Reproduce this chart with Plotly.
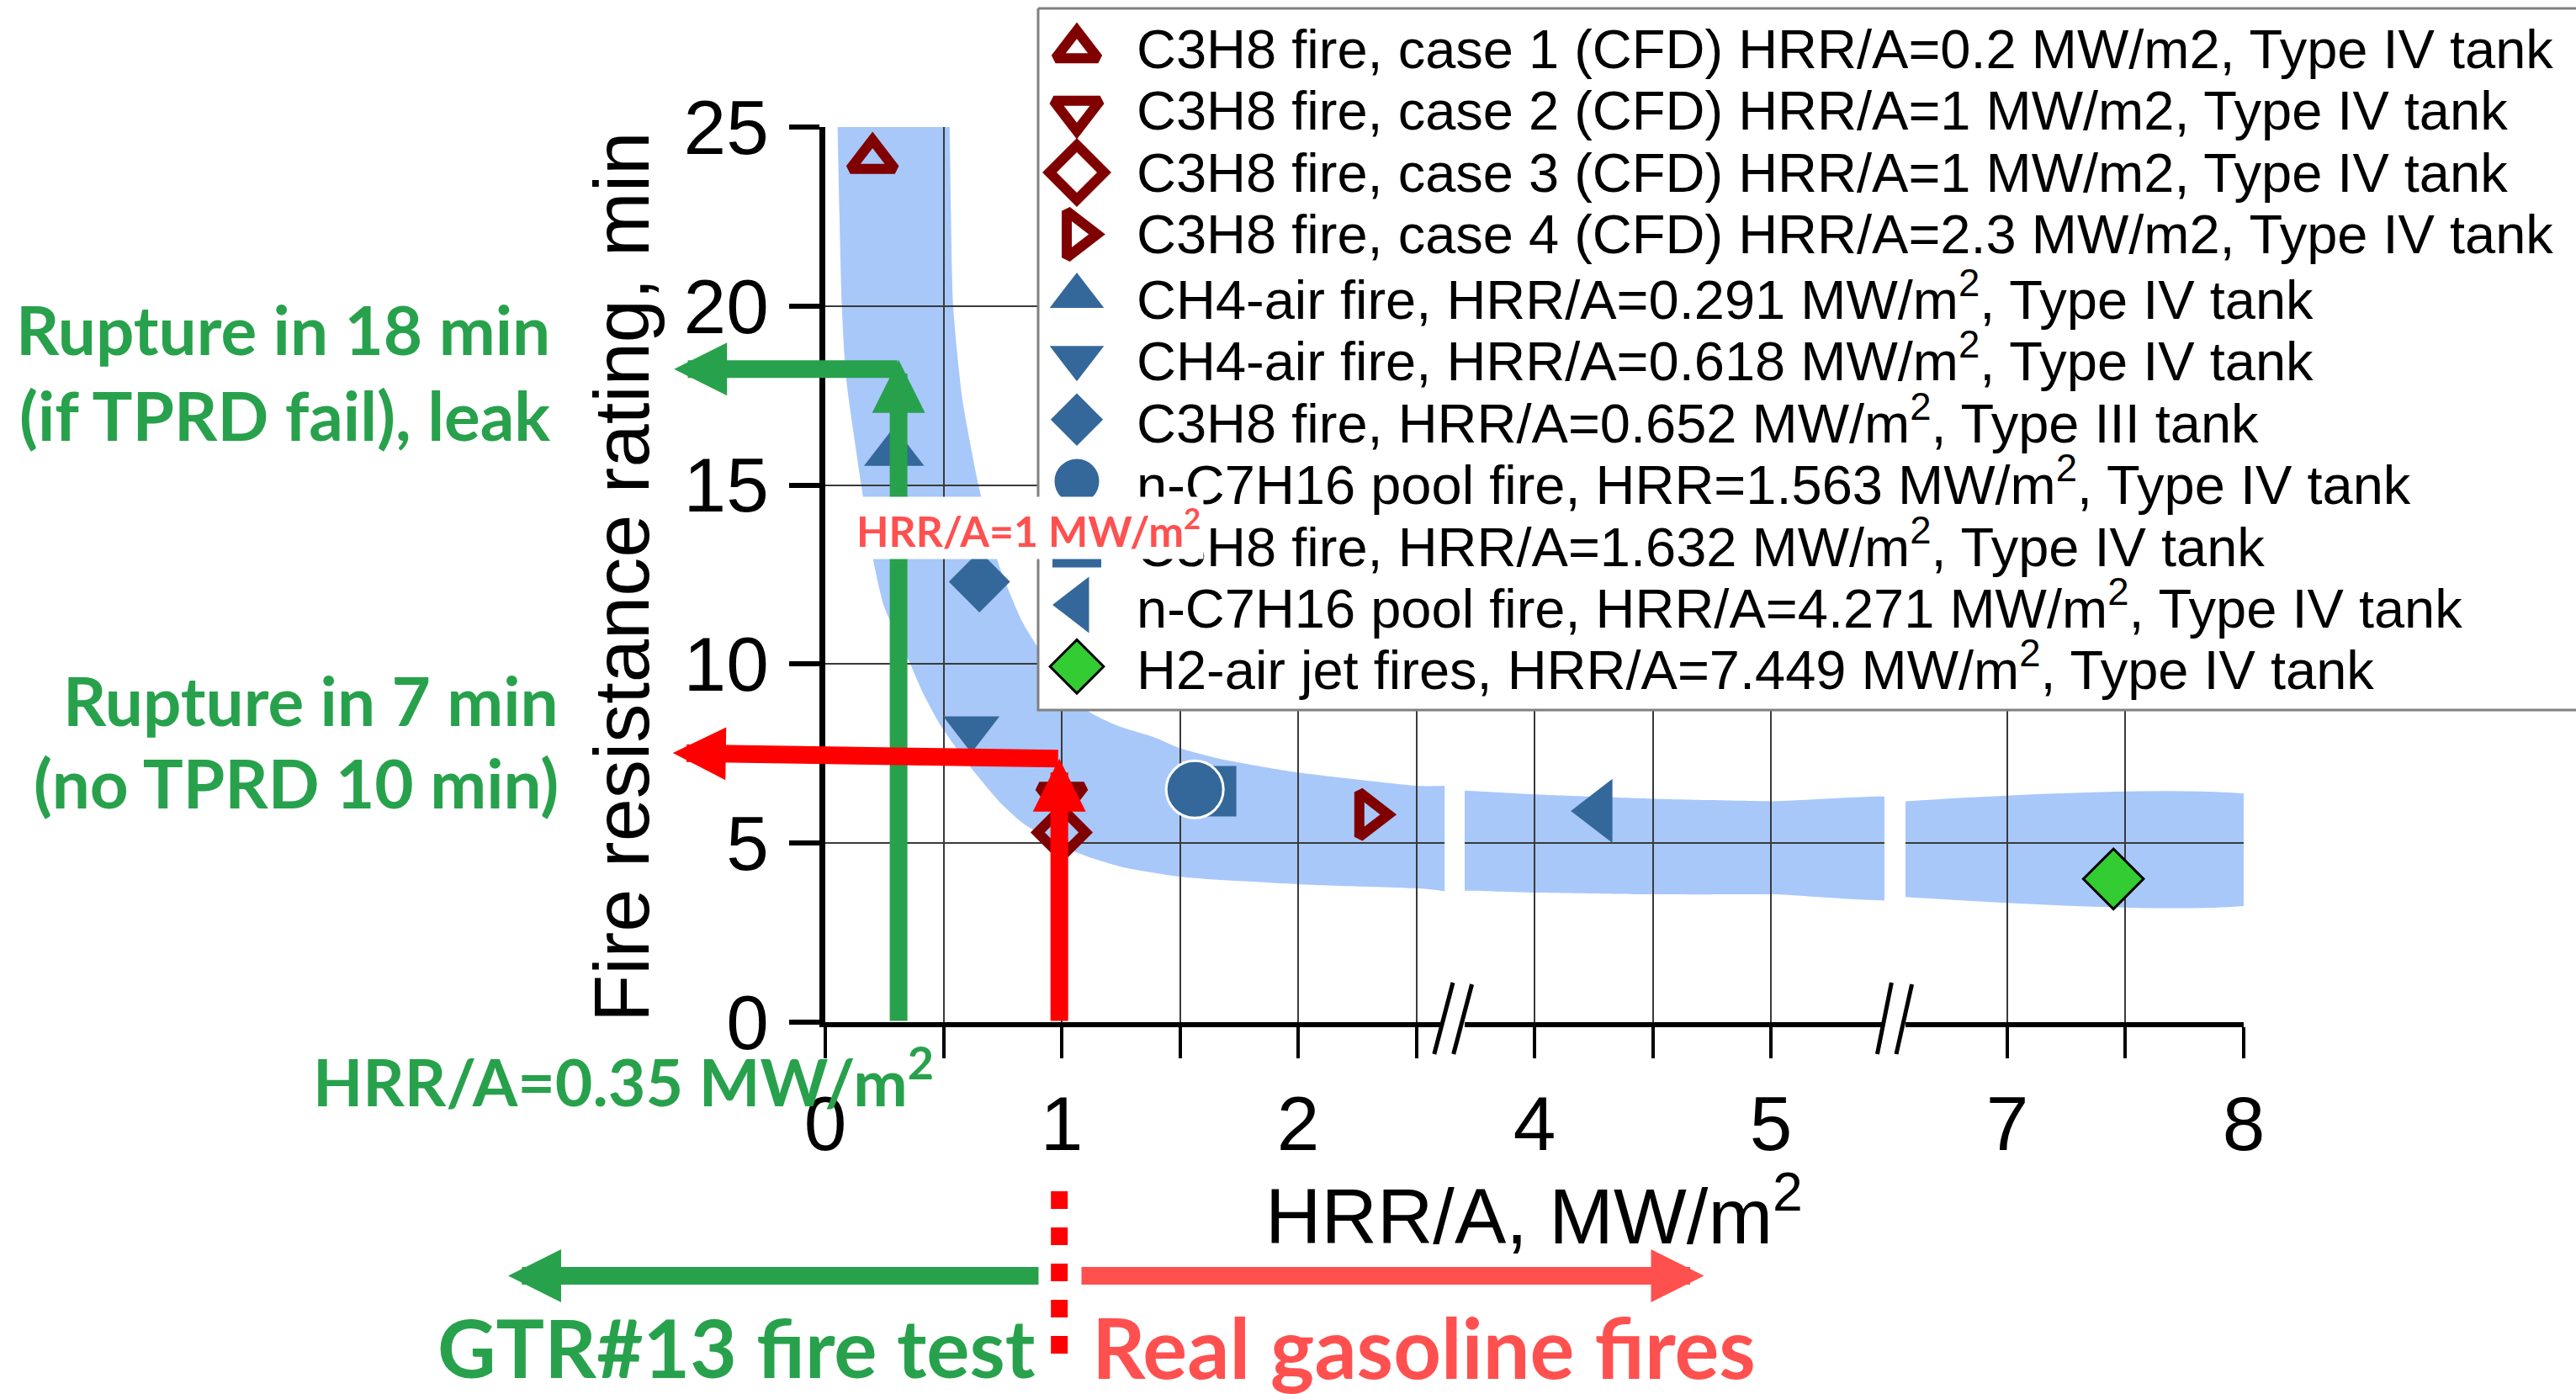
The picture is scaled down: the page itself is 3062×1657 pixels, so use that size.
import plotly.graph_objects as go

# ---------------- data ----------------
series_names = [
    "C3H8 fire, case 1 (CFD) HRR/A=0.2 MW/m2, Type IV tank",
    "C3H8 fire, case 2 (CFD) HRR/A=1 MW/m2, Type IV tank",
    "C3H8 fire, case 3 (CFD) HRR/A=1 MW/m2, Type IV tank",
    "C3H8 fire, case 4 (CFD) HRR/A=2.3 MW/m2, Type IV tank",
    "CH4-air fire, HRR/A=0.291 MW/m<sup>2</sup>, Type IV tank",
    "CH4-air fire, HRR/A=0.618 MW/m<sup>2</sup>, Type IV tank",
    "C3H8 fire, HRR/A=0.652 MW/m<sup>2</sup>, Type III tank",
    "n-C7H16 pool fire, HRR=1.563 MW/m<sup>2</sup>, Type IV tank",
    "C3H8 fire, HRR/A=1.632 MW/m<sup>2</sup>, Type IV tank",
    "n-C7H16 pool fire, HRR/A=4.271 MW/m<sup>2</sup>, Type IV tank",
    "H2-air jet fires, HRR/A=7.449 MW/m<sup>2</sup>, Type IV tank",
]
series_hrr = [0.2, 1.0, 1.0, 2.3, 0.291, 0.618, 0.652, 1.563, 1.632, 4.271, 7.449]
series_rating = [24.1, 6.3, 5.3, 5.8, 15.9, 8.2, 12.3, 6.5, 6.45, 5.9, 4.0]

# trend band edges, one piece per axis segment
band1_upper_x = [0.52, 0.526, 0.541, 0.58, 0.648, 0.733, 0.832, 0.906, 1.10, 1.235,
                 1.395, 1.505, 1.665, 1.836, 2.0, 2.5, 2.9]
band1_upper_y = [26.5, 25.0, 20.0, 17.4, 15.0, 12.8, 11.2, 10.4, 8.74, 8.28,
                 7.95, 7.64, 7.36, 7.15, 6.97, 6.6, 6.45]
band1_lower_x = [0.048, 0.052, 0.07, 0.088, 0.152, 0.206, 0.249, 0.36, 0.415, 0.488,
                 0.611, 0.746, 0.843, 1.07, 1.27, 1.49, 1.669, 1.84, 2.0, 2.5, 2.9]
band1_lower_y = [26.5, 25.0, 20.0, 18.0, 15.0, 12.8, 11.6, 10.0, 9.17, 8.28,
                 7.15, 6.09, 5.52, 4.72, 4.31, 4.07, 3.97, 3.91, 3.85, 3.74, 3.64]
band2_upper_x = [3.5, 3.722, 4.0, 4.5, 5.0, 5.7]
band2_upper_y = [6.52, 6.46, 6.36, 6.24, 6.17, 6.11]
band2_lower_x = [3.5, 3.722, 4.0, 4.5, 5.0, 5.7]
band2_lower_y = [3.69, 3.67, 3.62, 3.57, 3.57, 3.57]
band3_upper_x = [6.4, 8.2]
band3_upper_y = [6.10, 6.07]
band3_lower_x = [6.4, 8.2]
band3_lower_y = [3.57, 3.55]

x_tick_vals = [[0, 1, 2], [4, 5], [7, 8]]
x_minor_vals = [[0.5, 1.5, 2.5], [4.5], [7.5]]
y_tick_vals = [0, 5, 10, 15, 20, 25]

# marker lines (arrows) on the chart
tprd_fail_hrr = 0.31
tprd_fail_time = 18.24
tprd_fail_tip = 18.5
gtr_hrr = 0.99
gtr_time = 7.36
gtr_left_time = 7.52

# ---------------- styles ----------------
MAROON = "#800000"
BLUE = "#35689A"
LIME = "#33CC33"
GREEN = "#28A14C"
SALMON = "#FF5050"
RED = "#FF0000"
BAND = "#A8C8FA"
GRID = "#3a3a3a"
ARIAL = "Liberation Sans, Arial, sans-serif"
CALIBRI = "Lato, Carlito, sans-serif"

series_symbol = ["triangle-up-open", "triangle-down-open", "diamond-open", "triangle-right-open",
                 "triangle-up", "triangle-down", "diamond", "circle", "square", "triangle-left",
                 "diamond"]
series_color = [MAROON] * 4 + [BLUE] * 6 + [LIME]
plot_size = [46, 46, 44, 46, 62, 58, 56, 68, 60, 66, 55]
legend_size = [44, 48, 50, 48, 56, 56, 48, 56, 58, 58, 49]
line_w = [12, 12, 12, 12, 0, 0, 0, 3, 0, 0, 3]
line_col = [MAROON] * 4 + [BLUE] * 3 + ["white", BLUE, BLUE, "black"]
draw_order = [0, 1, 2, 3, 4, 5, 6, 8, 7, 9, 10]

# ---------------- geometry ----------------
W, H = 3062, 1657
X0_PX, PX_PER_UNIT = 981, 281
Y_TOP_PX, Y_BOT_PX = 151, 1215


def fx(px):
    return px / W


def fy(py):
    return 1 - py / H


seg_ranges = [[0.0, 2.62], [3.705, 5.48], [6.569, 8.0]]
seg_shift = [0, 1, 2]
seg_domains = [[fx(X0_PX + PX_PER_UNIT * (r[0] - s)), fx(X0_PX + PX_PER_UNIT * (r[1] - s))]
               for r, s in zip(seg_ranges, seg_shift)]
y_domain = [fy(Y_BOT_PX), fy(Y_TOP_PX)]


def seg_index(v):
    for i, r in enumerate(seg_ranges):
        if r[0] <= v <= r[1]:
            return i
    return 0


fig = go.Figure()

# ---- band (drawn on hidden axes underneath the gridded axes) ----
bands = [
    (band1_upper_x, band1_upper_y, band1_lower_x, band1_lower_y),
    (band2_upper_x, band2_upper_y, band2_lower_x, band2_lower_y),
    (band3_upper_x, band3_upper_y, band3_lower_x, band3_lower_y),
]
band_axes = [("x", "y"), ("x2", "y"), ("x3", "y")]
for (ux, uy, lx, ly), (xa, ya) in zip(bands, band_axes):
    fig.add_trace(go.Scatter(
        x=ux + lx[::-1], y=uy + ly[::-1], xaxis=xa, yaxis=ya,
        mode="lines", fill="toself", fillcolor=BAND,
        line=dict(width=0, shape="spline", smoothing=0.6, color=BAND),
        hoverinfo="skip", showlegend=False))

# ---- data markers ----
main_x = ["x4", "x5", "x6"]
for i in draw_order:
    k = seg_index(series_hrr[i])
    fig.add_trace(go.Scatter(
        x=[series_hrr[i]], y=[series_rating[i]], xaxis=main_x[k], yaxis="y2",
        mode="markers", name=series_names[i], cliponaxis=False,
        marker=dict(symbol=series_symbol[i], size=plot_size[i], color=series_color[i],
                    line=dict(width=line_w[i], color=line_col[i])),
        showlegend=False))

# ---- custom legend (own hidden axes on top) ----
LEG_L, LEG_T, LEG_B = 1234, 10, 844
ROW0, ROW_STEP = 58.3, 73.4
fig.add_trace(go.Scatter(
    x=[LEG_L, W + 20, W + 20, LEG_L, LEG_L], y=[LEG_T, LEG_T, LEG_B, LEG_B, LEG_T],
    xaxis="x7", yaxis="y3", mode="lines", fill="toself", fillcolor="white",
    line=dict(color="#808080", width=3), hoverinfo="skip", showlegend=False))
annotations = []
for i, name in enumerate(series_names):
    ry = ROW0 + ROW_STEP * i
    fig.add_trace(go.Scatter(
        x=[1280], y=[ry], xaxis="x7", yaxis="y3", mode="markers", cliponaxis=False,
        marker=dict(symbol=series_symbol[i], size=legend_size[i], color=series_color[i],
                    line=dict(width=line_w[i], color=line_col[i])),
        hoverinfo="skip", showlegend=False))
    annotations.append(dict(
        x=1349, y=ry, xref="x7", yref="y3", xanchor="left", yanchor="middle",
        text=name, showarrow=False, font=dict(family=ARIAL, size=65, color="black")))

# ---- axes ----
layout_axes = {}
for k, (xa, dom) in enumerate(zip(["xaxis", "xaxis2", "xaxis3"], seg_domains)):
    layout_axes[xa] = dict(domain=dom, range=seg_ranges[k], visible=False,
                           anchor="y", fixedrange=True)
layout_axes["yaxis"] = dict(domain=y_domain, range=[0, 25], visible=False,
                            anchor="x", fixedrange=True)
for k, (xa, dom) in enumerate(zip(["xaxis4", "xaxis5", "xaxis6"], seg_domains)):
    layout_axes[xa] = dict(
        domain=dom, range=seg_ranges[k], anchor="y2",
        tickmode="array", tickvals=x_tick_vals[k],
        ticks="outside", ticklen=37, tickwidth=4, tickcolor="black",
        minor=dict(tickmode="array", tickvals=x_minor_vals[k], ticks="outside",
                   ticklen=37, tickwidth=4, tickcolor="black",
                   showgrid=True, gridcolor=GRID, gridwidth=1.5),
        showline=True, linecolor="black", linewidth=6,
        showgrid=True, gridcolor=GRID, gridwidth=1.5, zeroline=False,
        tickfont=dict(family=ARIAL, size=91, color="black"), fixedrange=True)
layout_axes["yaxis2"] = dict(
    domain=y_domain, range=[0, 25], anchor="x4",
    tickmode="array", tickvals=y_tick_vals,
    ticks="outside", ticklen=36, tickwidth=6, tickcolor="black",
    ticklabelstandoff=6,
    showline=True, linecolor="black", linewidth=7,
    showgrid=True, gridcolor=GRID, gridwidth=1.5, zeroline=False,
    tickfont=dict(family=ARIAL, size=91, color="black"), fixedrange=True)
layout_axes["xaxis7"] = dict(domain=[fx(1220), 1], range=[1220, W], visible=False,
                             anchor="y3", fixedrange=True)
layout_axes["yaxis3"] = dict(domain=[fy(852), 1], range=[852, 0], visible=False,
                             anchor="x7", fixedrange=True)

# ---- arrows ----
arrow = dict(showarrow=True, arrowhead=2, arrowsize=0.6, arrowwidth=21, text="")
annotations += [
    dict(x=tprd_fail_hrr, y=tprd_fail_tip, ax=tprd_fail_hrr, ay=0,
         xref="x4", yref="y2", axref="x4", ayref="y2", arrowcolor=GREEN, **arrow),
    dict(x=-0.64, y=tprd_fail_time, ax=tprd_fail_hrr, ay=tprd_fail_time,
         xref="x4", yref="y2", axref="x4", ayref="y2", arrowcolor=GREEN, **arrow),
    dict(x=gtr_hrr, y=gtr_time, ax=gtr_hrr, ay=0,
         xref="x4", yref="y2", axref="x4", ayref="y2", arrowcolor=RED, **arrow),
    dict(x=-0.645, y=gtr_left_time, ax=gtr_hrr, ay=gtr_time,
         xref="x4", yref="y2", axref="x4", ayref="y2", arrowcolor=RED, **arrow),
    dict(x=fx(604), y=fy(1516.5), ax=632, ay=0, xref="paper", yref="paper",
         axref="pixel", ayref="pixel", arrowcolor=GREEN, **arrow),
    dict(x=fx(2025.5), y=fy(1516.5), ax=-741.5, ay=0, xref="paper", yref="paper",
         axref="pixel", ayref="pixel", arrowcolor=SALMON, **arrow),
]

# ---- texts ----
def txt(text, x, y, xanchor, size, color, family=CALIBRI, bold=True, **kw):
    d = dict(text=text, x=fx(x), y=fy(y), xref="paper", yref="paper",
             xanchor=xanchor, yanchor="middle", showarrow=False,
             font=dict(family=family, size=size, color=color,
                       weight="bold" if bold else "normal"))
    d.update(kw)
    return d


annotations += [
    txt("Rupture in 18 min", 656, 391, "right", 80, GREEN),
    txt("(if TPRD fail), leak", 656, 493, "right", 80, GREEN),
    txt("Rupture in 7 min", 666, 832, "right", 80, GREEN),
    txt("(no TPRD 10 min)", 666, 930, "right", 80, GREEN),
    txt("HRR/A=0.35 MW/m<sup>2</sup>", 370, 1280, "left", 77, GREEN),
    txt("GTR#13 fire test", 518, 1600, "left", 96, GREEN),
    txt("Real gasoline fires", 1296, 1600, "left", 99, SALMON),
    txt("HRR/A, MW/m<sup>2</sup>", 1823, 1439, "center", 92, "black", family=ARIAL, bold=False),
    txt("Fire resistance rating, min", 739, 686, "center", 92, "black", family=ARIAL,
        bold=False, textangle=-90),
    txt("HRR/A=1 MW/m<sup>2</sup>", 1222, 627, "center", 50, SALMON,
        bgcolor="white", borderpad=3),
]

# ---- axis breaks and dashed marker ----
shapes = []
for (t1, b1, t2, b2) in [((1727, 1168), (1704.8, 1253), (1749.6, 1170), (1727.7, 1253)),
                         ((2248.4, 1168), (2231.4, 1253), (2272.6, 1170), (2254.0, 1253))]:
    path = "M {} {} L {} {} L {} {} L {} {} Z".format(
        fx(t1[0]), fy(t1[1]), fx(t2[0]), fy(t2[1]), fx(b2[0]), fy(b2[1]), fx(b1[0]), fy(b1[1]))
    shapes.append(dict(type="path", path=path, xref="paper", yref="paper",
                       fillcolor="white", line=dict(width=0), layer="above"))
    for a, b in [(t1, b1), (t2, b2)]:
        shapes.append(dict(type="line", xref="paper", yref="paper",
                           x0=fx(a[0]), y0=fy(a[1]), x1=fx(b[0]), y1=fy(b[1]),
                           line=dict(color="black", width=5), layer="above"))
shapes.append(dict(type="line", xref="x4", yref="paper", x0=gtr_hrr, x1=gtr_hrr,
                   y0=fy(1416), y1=fy(1610), line=dict(color=RED, width=20, dash="21px,22px"),
                   layer="above"))

fig.update_layout(
    width=W, height=H, margin=dict(l=0, r=0, t=0, b=0, autoexpand=False),
    paper_bgcolor="white", plot_bgcolor="rgba(255,255,255,0)",
    template="none", showlegend=False, hovermode=False,
    annotations=annotations, shapes=shapes, **layout_axes)

fig.write_html("out.html")
